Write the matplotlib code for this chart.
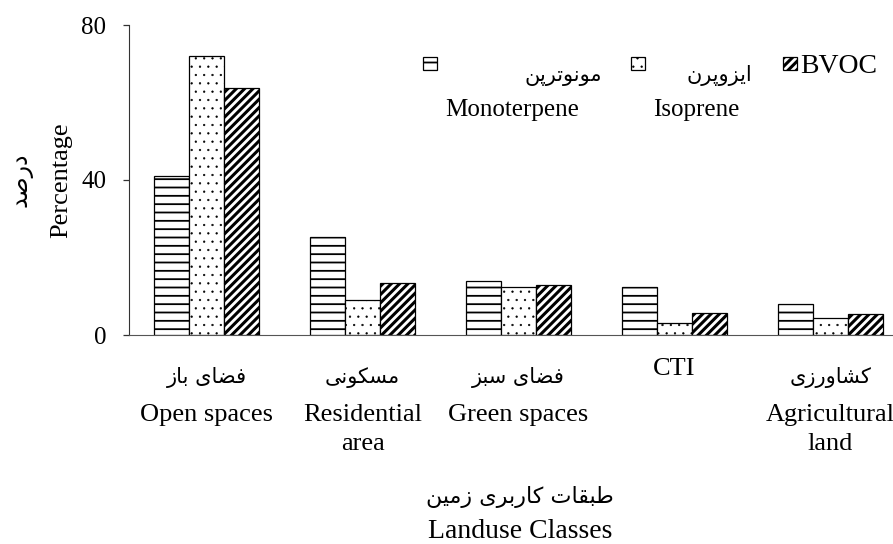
import numpy as np
import matplotlib
matplotlib.use("Agg")
import matplotlib.pyplot as plt
import matplotlib.transforms as mtransforms
from matplotlib.patches import Rectangle

# land-use classes (Persian / English) and percentage of each emission
categories_fa = ["فضای باز", "مسکونی", "فضای سبز", "", "کشاورزی"]
categories_en = ["Open spaces", "Residential\narea", "Green spaces", "CTI", "Agricultural\nland"]
monoterpene = [41.1, 25.2, 13.9, 12.3, 7.9]
isoprene = [72.0, 9.0, 12.5, 3.0, 4.3]
bvoc = [63.7, 13.3, 12.8, 5.6, 5.3]
yticks = [0, 40, 80]

series_fa = ["مونوترپن", "ایزوپرن", ""]
series_en = ["Monoterpene", "Isoprene", "BVOC"]
hatches = ["--", "..", "////"]
hatch_lw = [1.3, 0.4, 2.2]

xlabel_fa = "طبقات کاربری زمین"
xlabel_en = "Landuse Classes"
ylabel_fa = "درصد"
ylabel_en = "Percentage"

# matplotlib has no arabic shaping, so pick presentation forms by hand
# (isolated, final, initial, medial)
FORMS = {
    'ا': ('\uFE8D', '\uFE8E', None, None),
    'ب': ('\uFE8F', '\uFE90', '\uFE91', '\uFE92'),
    'پ': ('\uFB56', '\uFB57', '\uFB58', '\uFB59'),
    'ت': ('\uFE95', '\uFE96', '\uFE97', '\uFE98'),
    'د': ('\uFEA9', '\uFEAA', None, None),
    'ر': ('\uFEAD', '\uFEAE', None, None),
    'ز': ('\uFEAF', '\uFEB0', None, None),
    'س': ('\uFEB1', '\uFEB2', '\uFEB3', '\uFEB4'),
    'ش': ('\uFEB5', '\uFEB6', '\uFEB7', '\uFEB8'),
    'ص': ('\uFEB9', '\uFEBA', '\uFEBB', '\uFEBC'),
    'ض': ('\uFEBD', '\uFEBE', '\uFEBF', '\uFEC0'),
    'ط': ('\uFEC1', '\uFEC2', '\uFEC3', '\uFEC4'),
    'ف': ('\uFED1', '\uFED2', '\uFED3', '\uFED4'),
    'ق': ('\uFED5', '\uFED6', '\uFED7', '\uFED8'),
    'ک': ('\uFB8E', '\uFB8F', '\uFB90', '\uFB91'),
    'ل': ('\uFEDD', '\uFEDE', '\uFEDF', '\uFEE0'),
    'م': ('\uFEE1', '\uFEE2', '\uFEE3', '\uFEE4'),
    'ن': ('\uFEE5', '\uFEE6', '\uFEE7', '\uFEE8'),
    'و': ('\uFEED', '\uFEEE', None, None),
    'ی': ('\uFBFC', '\uFBFD', '\uFBFE', '\uFBFF'),
}


def shape(text):
    out = []
    for i, ch in enumerate(text):
        forms = FORMS.get(ch)
        if forms is None:
            out.append(ch)
            continue
        prev = text[i - 1] if i > 0 else ''
        nxt = text[i + 1] if i + 1 < len(text) else ''
        jp = prev in FORMS and FORMS[prev][2] is not None
        jn = nxt in FORMS and forms[2] is not None
        if jp and jn:
            out.append(forms[3])
        elif jp:
            out.append(forms[1])
        elif jn:
            out.append(forms[2])
        else:
            out.append(forms[0])
    return ''.join(reversed(out))


SERIF = ['Liberation Serif', 'DejaVu Sans']
FA = ['DejaVu Sans']
plt.rcParams['font.family'] = SERIF
plt.rcParams['hatch.linewidth'] = 1.3

W, H = 893, 544
fig = plt.figure(figsize=(W / 100, H / 100), dpi=100)
ax = fig.add_axes([128.5 / W, 1 - 335 / H, 780 / W, 310 / H])

x = np.arange(len(categories_en))
bw = 0.224
for k, vals in enumerate([monoterpene, isoprene, bvoc]):
    bars = ax.bar(x + (k - 1) * bw, vals, bw, color='white', edgecolor='black',
                  linewidth=0.9, hatch=hatches[k])
    for b in bars:
        if hasattr(b, 'set_hatch_linewidth'):
            b.set_hatch_linewidth(hatch_lw[k])

ax.set_xlim(-0.5, len(categories_en) - 0.5)
ax.set_ylim(0, 80)
ax.set_yticks(yticks)
ax.set_xticks([])
ax.tick_params(axis='y', length=4, width=0.9, pad=12, labelsize=18, colors='#333333',
               labelcolor='black')
for s in ['top', 'right']:
    ax.spines[s].set_visible(False)
ax.spines['left'].set_color('#333333')
ax.spines['bottom'].set_color('#555555')


def fy(ypx):
    return 1 - ypx / H


# category labels: persian line, then english lines
trans = mtransforms.blended_transform_factory(ax.transData, fig.transFigure)
for i in range(len(categories_en)):
    if categories_fa[i]:
        ax.text(x[i], fy(378), shape(categories_fa[i]), transform=trans, family=FA,
                fontsize=15, ha='center', va='center')
        ax.text(x[i], fy(404), categories_en[i], transform=trans, ha='center',
                va='top', fontsize=19, linespacing=1.4)
    else:
        ax.text(x[i], fy(358), categories_en[i], transform=trans, ha='center',
                va='top', fontsize=19)

# axis titles
fig.text(520 / W, fy(497), shape(xlabel_fa), family=FA, fontsize=16, ha='center', va='center')
fig.text(520 / W, fy(538), xlabel_en, fontsize=20, ha='center', va='baseline')
fig.text(61 / W, fy(180), ylabel_en, fontsize=19, rotation=90, ha='center', va='center')
fig.text(21 / W, fy(180), shape(ylabel_fa), family=FA, fontsize=17, rotation=90,
         ha='center', va='center')

# legend drawn by hand to follow the mixed persian / english layout
patch_x = [423, 631, 783]
fa_right = [602, 752]
en_left = [445, 653]
for k in range(3):
    r = Rectangle((patch_x[k] / W, fy(70)), 14 / W, 13 / H,
                  transform=fig.transFigure, facecolor='white',
                  edgecolor='black', linewidth=0.9, hatch=hatches[k])
    if hasattr(r, 'set_hatch_linewidth'):
        r.set_hatch_linewidth(hatch_lw[k])
    fig.add_artist(r)
    if series_fa[k]:
        fig.text(fa_right[k] / W, fy(76), shape(series_fa[k]), family=FA, fontsize=15,
                 ha='right', va='center')
        fig.text(en_left[k] / W, fy(116), series_en[k], fontsize=18, ha='left', va='baseline')
    else:
        fig.text(800 / W, fy(73), series_en[k], fontsize=20, ha='left', va='baseline')

fig.savefig('out.png', dpi=100)
